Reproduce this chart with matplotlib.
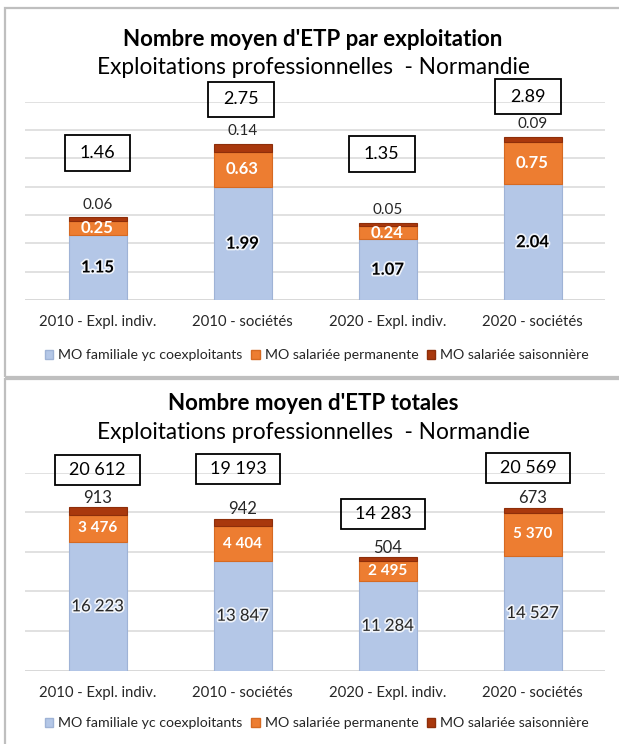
import matplotlib
matplotlib.use('Agg')
import matplotlib.pyplot as plt
import matplotlib.patheffects as pe
from matplotlib.patches import Rectangle, Patch

plt.rcParams['font.family'] = ['Lato', 'DejaVu Sans']

# ---------------------------
# données
# ---------------------------
categories = ['2010 - Expl. indiv.', '2010 - sociétés', '2020 - Expl. indiv.', '2020 - sociétés']
series_names = ['MO familiale yc coexploitants', 'MO salariée permanente', 'MO salariée saisonnière']

# nombre moyen d'ETP par exploitation
familiale_moy = [1.15, 1.99, 1.07, 2.04]
permanente_moy = [0.25, 0.63, 0.24, 0.75]
saisonniere_moy = [0.06, 0.14, 0.05, 0.09]
total_moy = [1.46, 2.75, 1.35, 2.89]

# nombre total d'ETP
familiale_tot = [16223, 13847, 11284, 14527]
permanente_tot = [3476, 4404, 2495, 5370]
saisonniere_tot = [913, 942, 504, 673]
total_tot = [20612, 19193, 14283, 20569]

# position des encadrés (placés à la main dans l'original)
box_dx_moy = [0.0, -0.01, -0.04, -0.03]
box_y_moy = [2.60, 3.54, 2.58, 3.59]
box_dx_tot = [0.0, -0.03, -0.03, -0.03]
box_y_tot = [25380, 25470, 19820, 25620]

col_fam = '#B4C7E7'
col_perm = '#ED7D31'
col_sais = '#A9380D'
grid_col = '#D9D9D9'
txt_col = '#262626'

W, H = 619, 744
fig = plt.figure(figsize=(W / 100, H / 100), dpi=100)


def fx(px):
    return px / W


def fy(py):
    return 1 - py / H


def fr_thousands(v):
    return f'{v:,}'.replace(',', '\u202f')


def draw_panel(ax, fam, perm, sais, totals, box_dx, box_y, box_w, box_h,
               ymax, step, fmt, big, sais_off):
    x = list(range(len(categories)))
    bw = 0.4
    ax.bar(x, fam, bw, color=col_fam, edgecolor='#9FB3D6', linewidth=0.8, zorder=3)
    ax.bar(x, perm, bw, bottom=fam, color=col_perm, edgecolor='#D66A22',
           linewidth=0.8, zorder=3)
    bottom3 = [a + b for a, b in zip(fam, perm)]
    ax.bar(x, sais, bw, bottom=bottom3, color=col_sais, edgecolor='#8E2E0A',
           linewidth=0.8, zorder=3)

    glow = [pe.withStroke(linewidth=2.5, foreground='white', alpha=0.8)]
    for i in x:
        # familiale
        if big:
            ax.text(i, fam[i] / 2, fmt(fam[i]), ha='center', va='center',
                    fontsize=12, fontweight='bold', color='black', zorder=5,
                    path_effects=glow)
        else:
            ax.text(i, fam[i] / 2, fmt(fam[i]), ha='center', va='center',
                    fontsize=12, color=txt_col, zorder=5, path_effects=glow)
        # permanente
        ax.text(i, fam[i] + perm[i] / 2, fmt(perm[i]), ha='center', va='center',
                fontsize=12 if big else 11, fontweight='bold', color='white', zorder=5)
        # saisonnière au-dessus
        ax.annotate(fmt(sais[i]), (i, bottom3[i] + sais[i]), xytext=(0, sais_off),
                    textcoords='offset points', ha='center', va='center',
                    fontsize=11 if big else 12, color=txt_col, zorder=5)
        # encadré du total
        cx = i + box_dx[i]
        cy = box_y[i]
        ax.add_patch(Rectangle((cx - box_w / 2, cy - box_h / 2), box_w, box_h,
                               fill=False, edgecolor='black', linewidth=1.3,
                               zorder=6, clip_on=False))
        ax.text(cx, cy, fmt(totals[i]), ha='center', va='center', fontsize=13,
                color='black', zorder=7)

    ax.set_xlim(-0.5, len(categories) - 0.5)
    ax.set_ylim(0, ymax)
    ax.set_yticks([k * step for k in range(int(round(ymax / step)) + 1)])
    ax.set_yticklabels([])
    ax.tick_params(axis='y', length=0)
    ax.tick_params(axis='x', length=0, pad=11, labelsize=10.7, labelcolor=txt_col)
    ax.set_xticks(x)
    ax.set_xticklabels(categories)
    ax.yaxis.grid(True, color=grid_col, linewidth=1.1, zorder=0)
    ax.set_axisbelow(True)
    for s in ax.spines.values():
        s.set_visible(False)
    ax.axhline(0, color=grid_col, linewidth=1.3, zorder=1)


# ---------------------------
# cadres gris des deux blocs
# ---------------------------
fig.add_artist(Rectangle((fx(5), fy(377)), fx(640) - fx(5), fy(8) - fy(377),
                         transform=fig.transFigure, fill=False,
                         edgecolor='#BFBFBF', linewidth=1.6))
fig.add_artist(Rectangle((fx(5), fy(760)), fx(640) - fx(5), fy(379) - fy(760),
                         transform=fig.transFigure, fill=False,
                         edgecolor='#BFBFBF', linewidth=1.6))

# ---------------------------
# graphique du haut
# ---------------------------
ax1 = fig.add_axes([fx(25), fy(300), fx(605) - fx(25), fy(101.7) - fy(300)])
draw_panel(ax1, familiale_moy, permanente_moy, saisonniere_moy, total_moy,
           box_dx_moy, box_y_moy, 0.455, 0.63, 3.5, 0.5,
           lambda v: f'{v:.2f}', True, 9)

fig.text(fx(313), fy(40), "Nombre moyen d'ETP par exploitation", ha='center',
         va='center', fontsize=16, fontweight='bold', color='black')
fig.text(fx(313), fy(68), 'Exploitations professionnelles  - Normandie',
         ha='center', va='center', fontsize=16.3, color='black')

# ---------------------------
# graphique du bas
# ---------------------------
ax2 = fig.add_axes([fx(25), fy(670.5), fx(605) - fx(25), fy(472.7) - fy(670.5)])
draw_panel(ax2, familiale_tot, permanente_tot, saisonniere_tot, total_tot,
           box_dx_tot, box_y_tot, 0.58, 3750, 25000, 5000,
           fr_thousands, False, 7)

fig.text(fx(313), fy(403), "Nombre moyen d'ETP totales", ha='center',
         va='center', fontsize=16, fontweight='bold', color='black')
fig.text(fx(313), fy(432), 'Exploitations professionnelles  - Normandie',
         ha='center', va='center', fontsize=16.3, color='black')

# ---------------------------
# légendes
# ---------------------------
handles = [Patch(facecolor=col_fam, edgecolor='#9FB3D6'),
           Patch(facecolor=col_perm, edgecolor='#D66A22'),
           Patch(facecolor=col_sais, edgecolor='#8E2E0A')]
for ly in (355, 723):
    fig.legend(handles, series_names, loc='center', bbox_to_anchor=(fx(317), fy(ly)),
               ncol=3, frameon=False, fontsize=10.2, handlelength=0.6,
               handleheight=0.6, handletextpad=0.35, columnspacing=0.6,
               labelcolor=txt_col)

fig.savefig('out.png', dpi=100)
